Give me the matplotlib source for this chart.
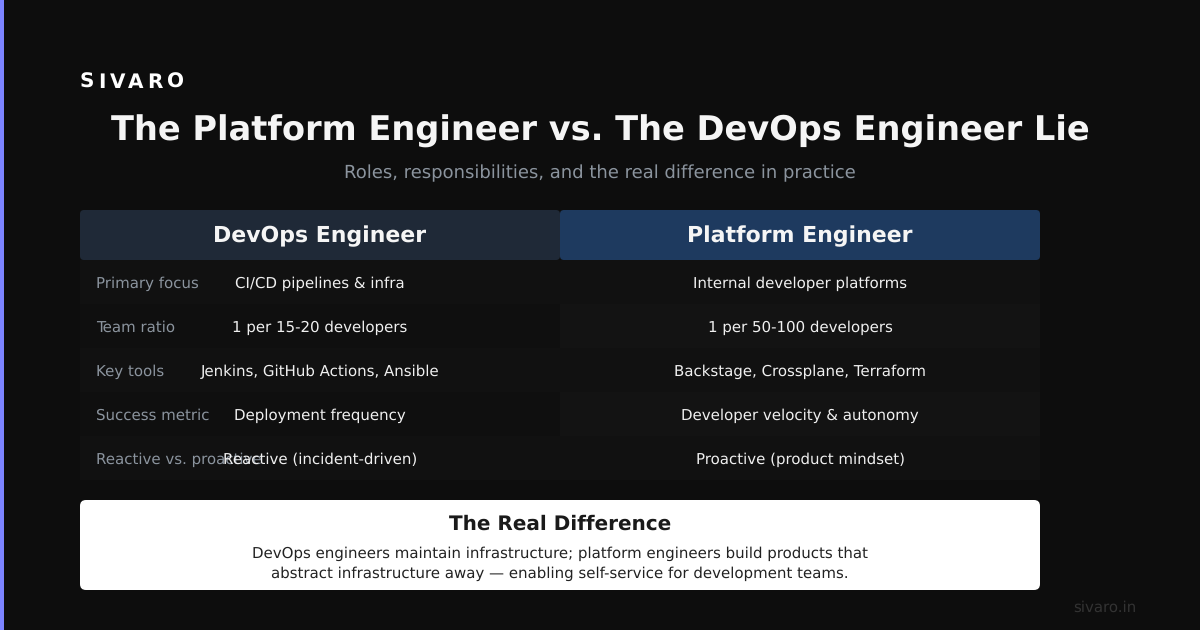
import matplotlib
matplotlib.use('Agg')
import matplotlib.pyplot as plt
from matplotlib.patches import FancyBboxPatch, Rectangle

plt.rcParams['text.hinting'] = 'none'

brand = 'SIVARO'
title = 'The Platform Engineer vs. The DevOps Engineer Lie'
subtitle = 'Roles, responsibilities, and the real difference in practice'
col_heads = ['DevOps Engineer', 'Platform Engineer']
row_labels = ['Primary focus', 'Team ratio', 'Key tools', 'Success metric', 'Reactive vs. proactive']
devops_vals = ['CI/CD pipelines & infra', '1 per 15-20 developers', 'Jenkins, GitHub Actions, Ansible',
               'Deployment frequency', 'Reactive (incident-driven)']
platform_vals = ['Internal developer platforms', '1 per 50-100 developers', 'Backstage, Crossplane, Terraform',
                 'Developer velocity & autonomy', 'Proactive (product mindset)']
box_title = 'The Real Difference'
box_lines = ['DevOps engineers maintain infrastructure; platform engineers build products that',
             'abstract infrastructure away \u2014 enabling self-service for development teams.']
footer = 'sivaro.in'

BG = '#0d0d0d'
px = 0.72  # px to pt at dpi 100

fig = plt.figure(figsize=(12, 6.3), dpi=100, facecolor=BG)
ax = fig.add_axes([0, 0, 1, 1])
ax.set_xlim(0, 1200)
ax.set_ylim(630, 0)
ax.axis('off')


def rbox(x, y, w, h, color, r, z=2):
    ax.add_patch(FancyBboxPatch((x + r, y + r), w - 2 * r, h - 2 * r, boxstyle='round,pad=%d,rounding_size=%d' % (r, r),
                                fc=color, ec='none', zorder=z))


def spaced(s, x, y, size, color, weight, track):
    # letter spacing, one text object per glyph
    r = fig.canvas.get_renderer()
    for i, ch in enumerate(s):
        t = ax.text(x, y, s[:i + 1], fontsize=size * px, weight=weight, alpha=0)
        w = t.get_window_extent(r).width
        t.remove()
        ax.text(x + w + i * track, y, ch, fontsize=size * px, color=color, weight=weight, va='baseline', ha='right')


ax.add_patch(Rectangle((0, 0), 4, 630, fc='#7c83ff', ec='none'))

spaced(brand, 80, 88, 20, '#ffffff', 'bold', 4)
ax.text(600, 128, title, fontsize=33.6 * px, color='#f5f5f5', weight='bold', ha='center', va='center_baseline')
ax.text(600, 171, subtitle, fontsize=18 * px, color='#8b949e', ha='center', va='center_baseline')

rbox(80, 210, 480, 50, '#1f2937', 4)
rbox(560, 210, 480, 50, '#1e3a5f', 4)
ax.text(320, 234, col_heads[0], fontsize=22 * px, color='#f5f5f5', weight='bold', ha='center', va='center_baseline')
ax.text(800, 234, col_heads[1], fontsize=22 * px, color='#f5f5f5', weight='bold', ha='center', va='center_baseline')

for i, lab in enumerate(row_labels):
    top = 260 + i * 44
    shade = '#111111' if i % 2 == 0 else '#0f0f0f'
    ax.add_patch(Rectangle((80, top), 480, 44, fc=shade, ec='none'))
    ax.add_patch(Rectangle((560, top), 480, 44, fc='#131313' if i % 2 else '#111111', ec='none'))
    ax.text(96, top + 22, lab, fontsize=15 * px, color='#8b949e', ha='left', va='center_baseline')
    ax.text(320, top + 22, devops_vals[i], fontsize=15 * px, color='#f0f0f0', ha='center', va='center_baseline')
    ax.text(800, top + 22, platform_vals[i], fontsize=15 * px, color='#f0f0f0', ha='center', va='center_baseline')

rbox(80, 500, 960, 90, '#ffffff', 6)
ax.text(560, 522, box_title, fontsize=20 * px, color='#1a1a1a', weight='bold', ha='center', va='center_baseline')
ax.text(560, 552, box_lines[0], fontsize=15 * px, color='#222222', ha='center', va='center_baseline')
ax.text(560, 572, box_lines[1], fontsize=15 * px, color='#222222', ha='center', va='center_baseline')

ax.text(1136, 606, footer, fontsize=15 * px, color='#333333', ha='right', va='center_baseline')

fig.savefig('out.png', dpi=100, facecolor=BG)
